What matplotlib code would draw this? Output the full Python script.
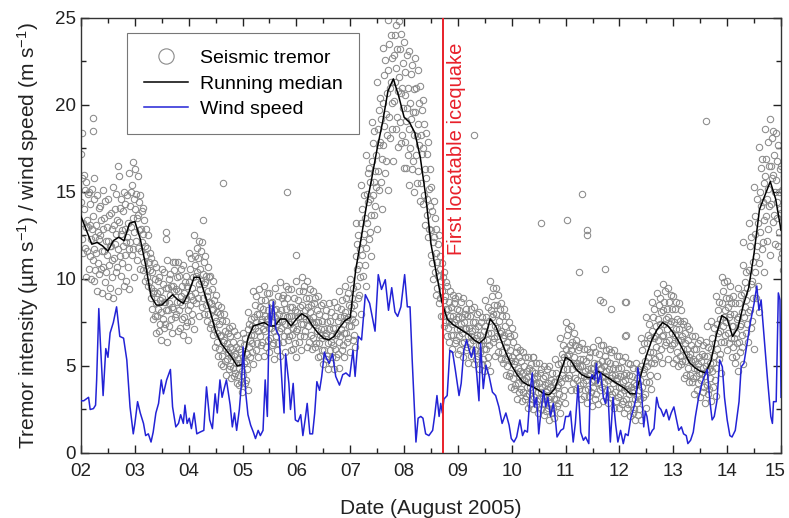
import matplotlib
matplotlib.use("Agg")
import matplotlib.pyplot as plt
from matplotlib.lines import Line2D
from matplotlib.ticker import MultipleLocator
from matplotlib.transforms import ScaledTranslation
import numpy as np

plt.rcParams["font.family"] = ["Liberation Sans", "DejaVu Sans"]
plt.rcParams["mathtext.fontset"] = "custom"
plt.rcParams["mathtext.rm"] = "Liberation Sans"
plt.rcParams["mathtext.it"] = "Liberation Sans:italic"

# time slots (day of August 2005), 0.1 day apart
days = np.round(np.arange(2.0, 15.001, 0.1), 1)

# running median of tremor
median = [
    13.6, 12.8, 12.0, 12.1, 11.9, 11.6, 12.2, 12.4, 12.2, 13.2,
    13.3, 12.3, 10.8, 9.0, 8.5, 8.5, 8.8, 9.1, 8.8, 8.6,
    9.2, 10.1, 10.1, 9.1, 8.1, 7.0, 6.3, 5.9, 5.5, 5.0,
    5.1, 6.6, 7.3, 7.4, 7.5, 7.3, 7.3, 7.7, 7.7, 7.3,
    7.7, 8.0, 7.8, 7.3, 6.9, 6.6, 6.5, 6.7, 7.2, 7.6,
    7.8, 10.5, 12.3, 14.2, 15.8, 17.5, 19.0, 20.8, 21.5, 20.5,
    19.3, 19.0, 18.4, 17.0, 14.8, 12.0, 10.3, 8.7, 7.7, 7.4,
    7.2, 7.0, 6.8, 6.5, 6.3, 6.6, 7.7, 7.3, 6.5, 5.7,
    5.0, 4.5, 4.1, 3.9, 3.8, 3.6, 3.4, 3.35, 3.7, 4.6,
    5.5, 5.3, 4.8, 4.5, 4.35, 4.3, 4.7, 4.5, 4.3, 4.1,
    3.9, 3.7, 3.4, 3.4, 4.5, 5.6, 6.5, 7.1, 7.5, 7.3,
    6.9, 6.4, 5.8, 5.2, 4.9, 4.7, 4.6, 5.3, 6.8, 7.9,
    7.7, 6.7, 7.2, 8.5, 9.5, 11.5, 14.0, 14.8, 15.6, 14.6,
    12.8,
]

# tremor samples, one row per level in the band
tremor_a = [
    17.2, 15.6, 15.2, 14.8, 15.1, 14.6, 15.3, 15.9, 15.0, 16.1,
    16.3, 14.8, 12.9, 11.2, 10.7, 10.6, 11.1, 11.0, 11.0, 10.8,
    11.5, 12.5, 12.2, 11.3, 10.2, 9.1, 8.4, 7.6, 7.3, 6.8,
    6.9, 8.1, 9.3, 9.4, 9.6, 9.2, 9.5, 9.8, 9.6, 9.4,
    9.9, 10.1, 9.9, 9.3, 9.0, 8.6, 8.6, 8.7, 9.3, 9.6,
    10.0, 13.2, 15.4, 17.1, 19.0, 21.3, 23.3, 24.9, 25.6, 24.8,
    23.6, 23.1, 22.7, 21.1, 18.4, 15.3, 12.9, 10.9, 9.6, 9.1,
    9.0, 8.9, 8.6, 8.4, 8.1, 8.8, 9.9, 9.5, 8.6, 7.9,
    7.2, 6.1, 5.8, 5.5, 5.5, 5.2, 5.0, 5.0, 5.4, 6.6,
    7.5, 7.3, 6.5, 6.3, 6.0, 6.1, 6.5, 6.2, 6.0, 5.9,
    5.6, 5.5, 5.1, 5.2, 6.6, 7.8, 8.7, 9.2, 9.7, 9.5,
    9.0, 8.6, 7.6, 7.1, 6.7, 6.5, 6.4, 7.6, 9.0, 10.1,
    9.9, 9.0, 9.5, 10.8, 13.2, 15.3, 17.6, 18.6, 19.2, 18.4,
    16.5,
]
tremor_b = [
    15.8, 14.9, 13.6, 14.1, 13.5, 13.7, 14.0, 14.1, 14.3, 15.0,
    14.9, 13.9, 11.8, 10.4, 9.9, 9.7, 10.0, 10.5, 10.2, 9.8,
    10.6, 11.3, 11.6, 10.2, 9.4, 8.1, 7.6, 6.9, 6.4, 6.0,
    6.2, 7.4, 8.5, 8.4, 8.8, 8.6, 8.3, 8.9, 8.9, 8.4,
    8.8, 9.3, 8.9, 8.6, 8.0, 7.9, 7.6, 7.9, 8.3, 8.9,
    8.9, 12.0, 14.0, 16.1, 17.8, 19.7, 21.7, 23.5, 24.0, 23.2,
    21.9, 21.8, 21.0, 19.7, 17.2, 13.9, 12.0, 10.1, 8.7, 8.6,
    8.2, 8.0, 7.9, 7.5, 7.5, 7.8, 9.0, 8.5, 7.9, 6.9,
    6.4, 5.5, 5.0, 4.9, 4.6, 4.6, 4.4, 4.2, 4.6, 5.7,
    6.8, 6.4, 5.9, 5.4, 5.5, 5.2, 5.7, 5.6, 5.2, 5.1,
    4.9, 4.6, 4.4, 4.3, 5.9, 6.8, 7.8, 8.5, 8.7, 8.7,
    8.3, 7.6, 6.9, 6.2, 6.0, 5.7, 5.6, 6.6, 8.2, 9.3,
    8.9, 8.0, 8.6, 9.8, 11.9, 13.6, 16.4, 16.9, 18.1, 16.8,
    15.1,
]
tremor_c = [
    14.4, 13.4, 12.9, 12.7, 12.9, 12.2, 13.1, 13.3, 12.9, 14.2,
    14.0, 12.9, 11.4, 9.5, 9.2, 8.9, 9.5, 9.6, 9.3, 9.2,
    9.8, 10.8, 10.6, 9.8, 8.6, 7.6, 6.8, 6.3, 6.0, 5.4,
    5.5, 7.1, 7.8, 8.0, 7.9, 7.9, 7.8, 8.2, 8.3, 7.9,
    8.1, 8.5, 8.4, 7.8, 7.5, 7.1, 7.1, 7.2, 7.8, 8.1,
    8.4, 11.3, 13.2, 14.9, 16.8, 18.6, 20.1, 22.0, 22.9, 21.6,
    20.6, 20.1, 19.6, 18.3, 15.8, 12.8, 11.0, 9.3, 8.3, 7.9,
    7.8, 7.5, 7.2, 7.1, 6.8, 7.3, 8.2, 8.0, 7.0, 6.4,
    5.5, 4.9, 4.6, 4.4, 4.3, 4.0, 3.9, 3.8, 4.1, 5.2,
    6.0, 5.9, 5.2, 5.0, 4.8, 4.8, 5.1, 5.0, 4.8, 4.5,
    4.4, 4.2, 3.8, 3.9, 5.0, 6.3, 7.0, 7.7, 8.2, 7.8,
    7.5, 7.1, 6.3, 5.7, 5.3, 5.3, 5.0, 6.0, 7.4, 8.6,
    8.4, 7.3, 7.8, 9.2, 10.5, 12.6, 15.0, 15.9, 16.5, 15.7,
    13.8,
]
tremor_d = [
    13.2, 13.0, 11.7, 12.3, 11.6, 11.9, 12.0, 12.6, 12.1, 13.0,
    13.5, 12.1, 10.6, 9.2, 8.3, 8.7, 8.6, 9.3, 8.7, 8.8,
    9.0, 10.2, 9.9, 9.0, 8.2, 6.9, 6.4, 5.8, 5.6, 4.9,
    5.2, 6.5, 7.2, 7.5, 7.4, 7.2, 7.4, 7.6, 7.8, 7.2,
    7.8, 7.9, 7.7, 7.4, 6.8, 6.7, 6.4, 6.8, 7.1, 7.7,
    7.7, 10.6, 12.1, 14.4, 15.6, 17.7, 18.8, 21.0, 21.3, 20.7,
    19.1, 19.2, 18.2, 17.2, 14.6, 12.1, 10.2, 8.8, 7.6, 7.5,
    7.1, 7.1, 6.7, 6.6, 6.2, 6.5, 7.8, 7.2, 6.6, 5.6,
    5.1, 4.4, 4.2, 3.8, 3.9, 3.5, 3.5, 3.3, 3.8, 4.5,
    5.6, 5.2, 4.9, 4.4, 4.4, 4.2, 4.8, 4.4, 4.3, 4.2,
    3.8, 3.7, 3.5, 3.3, 4.6, 5.5, 6.6, 7.0, 7.4, 7.4,
    6.8, 6.5, 5.7, 5.3, 4.8, 4.6, 4.7, 5.2, 6.9, 7.8,
    7.8, 6.6, 7.3, 8.4, 9.7, 11.3, 14.2, 14.6, 15.8, 14.4,
    13.0,
]
tremor_e = [
    12.3, 11.6, 11.1, 10.9, 10.7, 10.8, 11.2, 11.3, 11.4, 12.1,
    12.2, 11.6, 10.1, 8.3, 7.9, 7.7, 8.2, 8.3, 8.2, 7.8,
    8.5, 9.2, 9.4, 8.5, 7.4, 6.4, 5.6, 5.4, 4.9, 4.5,
    4.5, 6.1, 6.8, 6.7, 7.0, 6.6, 6.7, 7.2, 7.0, 6.8,
    7.1, 7.4, 7.3, 6.6, 6.3, 5.9, 5.9, 6.0, 6.7, 6.9,
    7.3, 9.6, 11.4, 13.2, 14.8, 16.2, 17.7, 19.3, 20.2, 19.0,
    17.9, 17.5, 17.1, 15.5, 13.7, 10.9, 9.5, 7.9, 7.2, 6.8,
    6.7, 6.4, 6.3, 5.9, 5.8, 6.0, 6.9, 6.7, 5.8, 5.0,
    4.3, 4.0, 3.5, 3.4, 3.2, 3.1, 2.8, 2.9, 3.1, 4.1,
    4.8, 4.8, 4.2, 4.0, 3.7, 3.8, 4.1, 4.0, 3.7, 3.5,
    3.4, 3.1, 2.8, 2.9, 3.8, 5.0, 5.8, 6.5, 6.8, 6.5,
    6.3, 5.6, 5.3, 4.5, 4.4, 4.2, 3.9, 4.7, 6.0, 7.3,
    6.9, 6.1, 6.4, 7.8, 8.2, 10.4, 12.7, 13.6, 14.3, 13.5,
    11.5,
]
tremor_f = [
    11.5, 10.6, 9.9, 10.3, 9.8, 9.5, 10.4, 10.2, 9.9, 11.4,
    11.1, 10.5, 9.6, 7.7, 7.0, 7.2, 7.3, 7.8, 7.2, 7.3,
    7.6, 8.6, 8.4, 7.6, 6.8, 5.6, 5.0, 4.8, 4.4, 3.9,
    4.0, 5.5, 5.9, 6.2, 6.1, 6.2, 5.9, 6.4, 6.5, 6.0,
    6.4, 6.7, 6.4, 6.1, 5.6, 5.4, 5.2, 5.5, 5.9, 6.4,
    6.5, 8.9, 10.2, 12.3, 13.7, 15.1, 16.1, 18.1, 18.6, 17.8,
    16.4, 16.3, 15.5, 14.3, 12.4, 10.0, 8.6, 7.3, 6.4, 6.3,
    5.9, 5.9, 5.6, 5.4, 5.1, 5.1, 6.4, 5.8, 5.2, 4.4,
    3.7, 3.5, 3.1, 2.8, 2.8, 2.5, 2.4, 2.3, 2.7, 3.3,
    4.3, 4.0, 3.7, 3.3, 3.3, 3.1, 3.6, 3.3, 3.2, 3.0,
    2.8, 2.6, 2.3, 2.2, 3.2, 4.1, 5.2, 5.6, 6.2, 6.0,
    5.4, 5.1, 4.5, 4.1, 3.6, 3.5, 3.4, 3.8, 5.4, 6.4,
    6.3, 5.2, 5.8, 6.9, 7.2, 8.9, 11.7, 12.2, 13.3, 11.9,
    10.5,
]
tremor_g = [
    10.1, 10.0, 9.3, 9.2, 9.0, 8.9, 9.3, 9.6, 9.4, 10.1,
    10.6, 9.9, 8.9, 6.9, 6.5, 6.4, 6.9, 7.0, 6.8, 6.5,
    7.1, 7.9, 8.0, 7.2, 6.1, 5.1, 4.5, 4.3, 4.0, 3.5,
    3.6, 5.1, 5.5, 5.6, 5.8, 5.4, 5.6, 5.8, 5.9, 5.5,
    5.9, 6.1, 6.0, 5.5, 5.1, 4.8, 4.8, 4.9, 5.5, 5.8,
    6.1, 8.0, 9.6, 11.3, 12.9, 14.0, 15.1, 16.8, 17.6, 16.4,
    15.4, 15.0, 14.5, 13.1, 11.4, 9.1, 7.9, 6.7, 6.0, 5.7,
    5.5, 5.2, 5.1, 4.8, 4.7, 4.7, 5.6, 5.4, 4.5, 3.8,
    3.1, 3.0, 2.6, 2.5, 2.3, 2.2, 1.9, 2.0, 2.3, 2.9,
    3.6, 3.6, 3.1, 2.9, 2.7, 2.8, 3.0, 2.9, 2.6, 2.6,
    2.3, 2.1, 1.9, 1.9, 2.6, 3.7, 4.4, 5.2, 5.4, 5.2,
    5.0, 4.3, 4.1, 3.4, 3.2, 2.9, 3.0, 3.3, 4.6, 5.9,
    5.5, 4.7, 5.1, 6.4, 6.0, 8.1, 10.4, 11.4, 12.0, 11.2,
    9.4,
]
tremor_h = [
    16.0, 15.0, 14.6, 14.2, 14.5, 13.8, 14.9, 14.6, 14.8, 15.4,
    15.9, 14.1, 12.5, 10.9, 10.1, 10.4, 10.3, 11.0, 10.6, 10.2,
    11.2, 11.8, 12.1, 10.7, 9.9, 8.5, 8.0, 7.2, 7.0, 6.3,
    6.6, 7.7, 9.0, 8.8, 9.2, 8.7, 9.0, 9.1, 9.4, 8.9,
    9.3, 9.6, 9.4, 8.9, 8.5, 8.2, 8.1, 8.4, 8.8, 9.2,
    9.5, 12.5, 14.8, 16.4, 18.5, 20.4, 22.6, 24.0, 24.6, 24.1,
    22.9, 22.3, 22.0, 20.3, 17.9, 14.5, 12.5, 10.4, 9.3, 8.9,
    8.7, 8.3, 8.3, 8.0, 7.8, 8.4, 9.5, 9.1, 8.3, 7.5,
    6.8, 5.9, 5.5, 5.1, 5.2, 4.8, 4.8, 4.6, 5.1, 6.2,
    7.1, 6.9, 6.1, 6.0, 5.8, 5.8, 6.2, 5.9, 5.8, 5.6,
    5.3, 5.2, 4.9, 4.8, 6.3, 7.4, 8.3, 8.9, 9.3, 9.1,
    8.7, 8.2, 7.3, 6.7, 6.3, 6.2, 6.1, 7.2, 8.7, 9.8,
    9.6, 8.6, 9.1, 10.4, 12.4, 14.6, 16.9, 17.9, 18.5, 17.7,
    15.9,
]
tremor_i = [
    15.1, 14.3, 13.1, 13.4, 13.0, 12.9, 13.4, 13.9, 13.2, 14.6,
    14.4, 13.4, 11.5, 10.0, 9.3, 9.5, 9.6, 10.1, 9.6, 9.6,
    10.1, 11.2, 11.0, 10.1, 8.8, 8.0, 7.0, 6.7, 6.1, 5.8,
    5.7, 7.3, 8.0, 8.3, 8.2, 8.2, 8.0, 8.6, 8.4, 8.2,
    8.4, 8.9, 8.5, 8.2, 7.6, 7.5, 7.2, 7.6, 7.9, 8.5,
    8.5, 11.7, 13.5, 15.6, 17.1, 19.2, 20.7, 22.7, 23.2, 22.4,
    21.0, 20.9, 20.1, 18.9, 16.3, 13.5, 11.3, 9.8, 8.4, 8.3,
    7.8, 7.9, 7.5, 7.3, 7.0, 7.6, 8.5, 8.3, 7.3, 6.7,
    5.8, 5.3, 4.7, 4.7, 4.4, 4.3, 4.0, 4.1, 4.3, 5.5,
    6.2, 6.2, 5.4, 5.3, 4.9, 5.1, 5.3, 5.3, 4.9, 4.9,
    4.5, 4.5, 4.0, 4.2, 5.3, 6.6, 7.3, 8.1, 8.3, 8.3,
    7.7, 7.4, 6.5, 6.0, 5.5, 5.6, 5.2, 6.3, 7.7, 8.9,
    8.6, 7.7, 8.1, 9.5, 11.0, 13.2, 15.5, 16.5, 17.1, 16.3,
    14.3,
]
tremor_j = [
    14.0, 13.1, 12.4, 12.5, 12.2, 11.9, 12.6, 12.8, 12.4, 13.5,
    13.7, 12.6, 11.0, 9.3, 8.8, 8.7, 9.1, 9.4, 9.0, 8.9,
    9.5, 10.4, 10.3, 9.3, 8.3, 7.4, 6.5, 6.1, 5.7, 5.2,
    5.3, 6.8, 7.5, 7.7, 7.7, 7.5, 7.6, 7.9, 7.9, 7.6,
    7.9, 8.2, 8.1, 7.5, 7.1, 6.9, 6.7, 6.9, 7.4, 7.8,
    8.0, 10.8, 12.6, 14.6, 16.2, 17.9, 19.5, 21.3, 22.1, 21.0,
    19.8, 19.6, 18.9, 17.5, 15.2, 12.4, 10.6, 9.0, 7.9, 7.7,
    7.4, 7.2, 7.0, 6.8, 6.5, 6.9, 8.0, 7.6, 6.8, 5.9,
    5.3, 4.7, 4.3, 4.1, 4.0, 3.8, 3.7, 3.6, 3.9, 4.8,
    5.7, 5.5, 5.0, 4.7, 4.6, 4.5, 4.9, 4.7, 4.5, 4.3,
    4.1, 3.9, 3.6, 3.6, 4.8, 5.8, 6.7, 7.4, 7.7, 7.6,
    7.1, 6.7, 6.0, 5.4, 5.1, 4.9, 4.8, 5.6, 7.0, 8.2,
    8.0, 6.9, 7.4, 8.8, 9.9, 11.9, 14.4, 15.2, 16.0, 15.0,
    13.2,
]
tremor_k = [
    13.0, 12.3, 11.5, 11.6, 11.4, 11.1, 11.7, 11.9, 11.7, 12.7,
    12.8, 11.9, 10.5, 8.6, 8.1, 8.2, 8.4, 8.7, 8.5, 8.2,
    8.8, 9.7, 9.7, 8.7, 7.8, 6.7, 6.0, 5.6, 5.2, 4.7,
    4.8, 6.3, 7.0, 7.1, 7.2, 7.0, 7.0, 7.4, 7.4, 7.0,
    7.4, 7.7, 7.5, 7.0, 6.6, 6.3, 6.2, 6.4, 6.9, 7.3,
    7.5, 10.1, 11.8, 13.7, 15.3, 16.9, 18.3, 20.1, 20.8, 19.8,
    18.6, 18.3, 17.7, 16.3, 14.2, 11.5, 9.9, 8.3, 7.4, 7.1,
    6.9, 6.7, 6.5, 6.2, 6.0, 6.2, 7.3, 6.9, 6.1, 5.3,
    4.6, 4.2, 3.8, 3.6, 3.5, 3.3, 3.1, 3.1, 3.4, 4.3,
    5.2, 5.0, 4.5, 4.2, 4.1, 4.0, 4.4, 4.2, 4.0, 3.8,
    3.6, 3.4, 3.1, 3.1, 4.1, 5.2, 6.1, 6.7, 7.1, 6.9,
    6.5, 6.0, 5.5, 4.9, 4.6, 4.4, 4.3, 4.9, 6.4, 7.5,
    7.3, 6.3, 6.8, 8.1, 8.9, 10.9, 13.4, 14.2, 15.0, 14.0,
    12.2,
]
tremor_l = [
    11.8, 11.3, 10.5, 10.6, 10.4, 10.1, 10.7, 10.9, 10.7, 11.7,
    11.8, 11.0, 9.8, 7.9, 7.4, 7.4, 7.7, 8.0, 7.7, 7.5,
    8.0, 8.9, 8.9, 8.0, 7.1, 6.0, 5.3, 5.0, 4.6, 4.1,
    4.2, 5.8, 6.3, 6.4, 6.5, 6.3, 6.3, 6.7, 6.7, 6.3,
    6.7, 7.0, 6.8, 6.3, 5.9, 5.6, 5.5, 5.7, 6.2, 6.6,
    6.8, 9.1, 10.8, 12.7, 14.2, 15.6, 16.8, 18.6, 19.3, 18.3,
    17.1, 16.8, 16.2, 14.8, 12.9, 10.4, 8.9, 7.5, 6.8, 6.5,
    6.3, 6.1, 5.9, 5.6, 5.4, 5.5, 6.6, 6.2, 5.4, 4.6,
    3.9, 3.7, 3.3, 3.1, 3.0, 2.8, 2.6, 2.6, 2.9, 3.6,
    4.5, 4.3, 3.9, 3.6, 3.5, 3.4, 3.8, 3.6, 3.4, 3.2,
    3.0, 2.8, 2.5, 2.5, 3.4, 4.5, 5.4, 6.0, 6.4, 6.2,
    5.8, 5.3, 4.9, 4.3, 4.0, 3.8, 3.7, 4.2, 5.7, 6.8,
    6.6, 5.6, 6.1, 7.4, 7.6, 9.6, 12.1, 12.9, 13.7, 12.7,
    10.9,
]

# isolated tremor samples away from the main band
outlier_day = [2.01, 2.22, 2.22, 2.25, 2.69, 2.97, 3.58, 3.58, 4.27, 4.64,
               5.82, 5.99, 9.29, 10.4, 10.54, 11.02, 11.3, 11.39, 11.39,
               11.24, 11.73, 11.64, 11.7, 11.85, 12.13, 12.13, 12.1, 12.1,
               13.6, 13.62, 14.3]
outlier_val = [18.4, 19.25, 18.5, 15.8, 16.5, 16.7, 12.7, 12.3, 13.4, 15.5,
               15.0, 11.4, 18.3, 5.5, 13.2, 13.4, 14.9, 12.8, 12.5,
               10.4, 10.6, 8.8, 8.7, 8.3, 8.7, 6.8, 8.7, 6.7,
               19.1, 7.3, 12.1]

# wind speed (m/s)
wind_day = [
    2.0, 2.05, 2.14, 2.17, 2.23, 2.27, 2.29, 2.33, 2.36, 2.41, 2.46, 2.5, 2.54,
    2.6, 2.66, 2.72, 2.79, 2.85, 2.91, 2.97, 3.0, 3.05, 3.1, 3.16, 3.2, 3.25,
    3.3, 3.34, 3.39, 3.44, 3.49, 3.53, 3.59, 3.66, 3.7, 3.76, 3.81, 3.85, 3.9,
    3.93, 3.97, 4.01, 4.05, 4.1, 4.15, 4.21, 4.28, 4.33, 4.39, 4.44, 4.49,
    4.53, 4.58, 4.62, 4.65, 4.7, 4.77, 4.81, 4.85, 4.89, 4.94, 4.98, 5.01,
    5.06, 5.1, 5.15, 5.2, 5.24, 5.29, 5.33, 5.38, 5.42, 5.46, 5.5, 5.53, 5.57,
    5.62, 5.68, 5.74, 5.77, 5.8, 5.86, 5.89, 5.94, 5.98, 6.03, 6.08, 6.12,
    6.17, 6.2, 6.25, 6.3, 6.34, 6.38, 6.43, 6.47, 6.52, 6.55, 6.61, 6.67,
    6.73, 6.8, 6.86, 6.92, 6.99, 7.05, 7.09, 7.15, 7.21, 7.28, 7.36, 7.46,
    7.52, 7.58, 7.65, 7.71, 7.77, 7.83, 7.88, 7.94, 8.01, 8.06, 8.11, 8.15,
    8.22, 8.26, 8.31, 8.35, 8.4, 8.46, 8.53, 8.57, 8.61, 8.65, 8.68, 8.71,
    8.74, 8.8, 8.85, 8.9, 8.95, 9.02, 9.06, 9.11, 9.16, 9.21, 9.25, 9.3,
    9.35, 9.39, 9.42, 9.47, 9.52, 9.58, 9.64, 9.7, 9.76, 9.82, 9.89, 9.95,
    9.99, 10.04, 10.09, 10.15, 10.2, 10.24, 10.29, 10.35, 10.38, 10.42, 10.46,
    10.5, 10.55, 10.59, 10.63, 10.67, 10.72, 10.77, 10.81, 10.84, 10.91,
    10.96, 11.0, 11.06, 11.09, 11.14, 11.18, 11.23, 11.28, 11.33, 11.37,
    11.43, 11.46, 11.49, 11.54, 11.57, 11.6, 11.65, 11.7, 11.74, 11.78,
    11.83, 11.88, 11.93, 11.97, 12.02, 12.07, 12.11, 12.16, 12.21, 12.27,
    12.31, 12.34, 12.38, 12.4, 12.45, 12.48, 12.51, 12.56, 12.61, 12.64,
    12.69, 12.73, 12.77, 12.82, 12.87, 12.92, 12.96, 13.01, 13.06, 13.1,
    13.15, 13.19, 13.24, 13.27, 13.32, 13.37, 13.41, 13.47, 13.53, 13.6,
    13.63, 13.68, 13.72, 13.76, 13.81, 13.86, 13.91, 13.95, 14.0, 14.05,
    14.09, 14.15, 14.22, 14.26, 14.31, 14.37, 14.43, 14.5, 14.55, 14.59,
    14.63, 14.68, 14.75, 14.81, 14.84, 14.86, 14.91, 14.95, 14.98, 15.0,
]
wind_speed = [
    3.0, 3.0, 3.2, 2.5, 2.55, 2.75, 4.2, 8.3, 6.3, 3.3, 6.0, 5.5, 6.9,
    7.5, 8.4, 6.7, 6.6, 5.35, 2.65, 1.1, 1.7, 2.95, 2.3, 1.7, 1.0, 1.1,
    0.63, 1.2, 2.3, 2.85, 4.2, 3.4, 4.2, 4.8, 2.65, 1.5, 1.7, 2.2, 1.7,
    2.75, 1.7, 2.0, 1.4, 2.3, 1.1, 1.2, 1.3, 3.8, 1.9, 1.4, 3.4,
    2.3, 4.2, 3.2, 3.6, 4.2, 2.75, 1.5, 2.3, 1.3, 2.5, 4.0, 6.1,
    3.4, 2.2, 1.6, 1.2, 0.83, 1.3, 1.0, 1.3, 4.2, 2.1, 8.5, 7.3, 8.7,
    7.1, 6.7, 3.6, 2.3, 5.7, 4.0, 2.5, 4.0, 1.9, 1.8, 2.2, 1.0,
    2.1, 2.85, 1.1, 1.1, 2.3, 4.1, 3.6, 4.4, 5.8, 5.5, 5.15, 5.7,
    4.4, 3.9, 4.5, 4.6, 4.4, 5.9, 4.4, 6.7, 6.5, 9.1, 8.6, 7.0,
    10.25, 9.4, 9.96, 8.2, 9.5, 8.1, 7.85, 8.4, 10.25, 8.4, 8.4, 5.35,
    0.63, 2.0, 2.1, 2.0, 1.1, 1.0, 1.3, 2.2, 3.3, 2.1, 2.85, 2.3,
    3.1, 3.3, 5.9, 5.8, 4.8, 3.3, 4.0, 5.9, 6.5, 5.9, 5.5, 6.1,
    4.5, 3.0, 6.3, 3.7, 5.05, 4.4, 3.5, 3.3, 2.65, 1.7, 2.3, 1.6,
    0.83, 0.63, 0.92, 1.9, 1.0, 1.3, 1.2, 3.8, 4.6, 2.65, 3.2,
    1.1, 2.65, 3.6, 2.65, 3.2, 2.1, 2.85, 1.9, 0.92, 1.3,
    1.4, 2.1, 2.1, 2.4, 0.63, 1.7, 3.9, 1.2, 0.73, 0.92,
    0.54, 4.2, 4.5, 4.2, 5.15, 4.0, 4.6, 3.2, 2.85, 3.8,
    0.63, 3.2, 1.6, 0.63, 1.3, 0.54, 1.1, 1.0, 2.0, 2.65,
    3.2, 4.9, 4.3, 4.0, 1.5, 2.4, 2.1, 1.0, 1.3, 1.4,
    3.2, 2.65, 2.5, 2.1, 2.5, 1.9, 2.3, 2.65, 1.9, 1.3,
    1.5, 1.1, 1.0, 0.54, 0.73, 1.2, 2.1, 3.2, 4.0, 4.6,
    4.8, 2.95, 1.9, 2.1, 3.0, 5.35, 4.95, 3.2, 1.9, 1.0,
    0.92, 1.3, 2.95, 4.95, 5.15, 6.3, 7.5, 8.6, 9.6, 8.2,
    8.8, 6.9, 4.2, 2.1, 1.7, 2.95, 2.95, 9.2, 8.8, 3.2,
]

icequake_day = 8.72

GREY = "#8a8a8a"
BLUE = "#2323d6"
RED = "#e8202a"

fig = plt.figure(figsize=(7.89, 5.18), dpi=100)
ax = fig.add_axes([0.1027, 0.1255, 0.8872, 0.8398])

rows = [tremor_a, tremor_h, tremor_b, tremor_i, tremor_c, tremor_j,
        tremor_d, tremor_k, tremor_e, tremor_l, tremor_f, tremor_g]
order = [0, 6, 3, 9, 1, 7, 4, 10, 2, 8, 5, 11]
for row, k in zip(rows, order):
    ax.plot(days + k * 0.1 / 12, row, "o", mfc="none", mec=GREY, ms=4.6,
            mew=0.75, zorder=2)
ax.plot(outlier_day, outlier_val, "o", mfc="none", mec=GREY, ms=4.6,
        mew=0.75, zorder=2)

ax.plot(days, median, color="black", lw=1.1, zorder=3)
ax.plot(wind_day, wind_speed, color=BLUE, lw=1.1, zorder=4)
ax.axvline(icequake_day, color=RED, lw=1.4, zorder=5)
ax.text(icequake_day + 0.255, 11.4, "First locatable icequake", color=RED,
        rotation=90, ha="center", va="bottom", fontsize=14.5)

ax.set_xlim(2, 15)
ax.set_ylim(0, 25)
ax.set_xticks(np.arange(2, 16))
ax.set_xticklabels([f"{d:02d}" for d in range(2, 16)])
ax.xaxis.set_minor_locator(MultipleLocator(0.5))
ax.yaxis.set_major_locator(MultipleLocator(5))
ax.yaxis.set_minor_locator(MultipleLocator(2.5))
ax.tick_params(which="both", direction="in", top=True, right=True,
               labelsize=13.5, colors="#222222")
ax.tick_params(which="major", length=6, width=1)
ax.tick_params(which="minor", length=3.5, width=1)
ax.tick_params(axis="x", pad=7)
for sp in ax.spines.values():
    sp.set_linewidth(1.0)
    sp.set_color("#333333")

last = ax.get_xticklabels()[-1]
last.set_transform(last.get_transform()
                   + ScaledTranslation(-4 / 72, 0, fig.dpi_scale_trans))

ax.set_xlabel("Date (August 2005)", fontsize=15, labelpad=14,
              color="#222222")
ax.set_ylabel(r"Tremor intensity (µm s$^{-1}$) / wind speed (m s$^{-1}$)",
              fontsize=15, labelpad=10, color="#222222")

handles = [
    Line2D([], [], ls="none", marker="o", mfc="none", mec=GREY, ms=11,
           mew=0.8, label="Seismic tremor"),
    Line2D([], [], color="black", lw=1.1, label="Running median"),
    Line2D([], [], color=BLUE, lw=1.1, label="Wind speed"),
]
leg = ax.legend(handles=handles, loc="upper left",
                bbox_to_anchor=(0.0657, 0.9655), borderaxespad=0,
                fontsize=14, frameon=True, fancybox=False,
                edgecolor="#555555", handlelength=2.3, borderpad=0.85,
                labelspacing=0.4, handletextpad=0.6)
leg.get_frame().set_linewidth(0.8)
leg.set_zorder(6)

fig.savefig("out.png", dpi=100)
